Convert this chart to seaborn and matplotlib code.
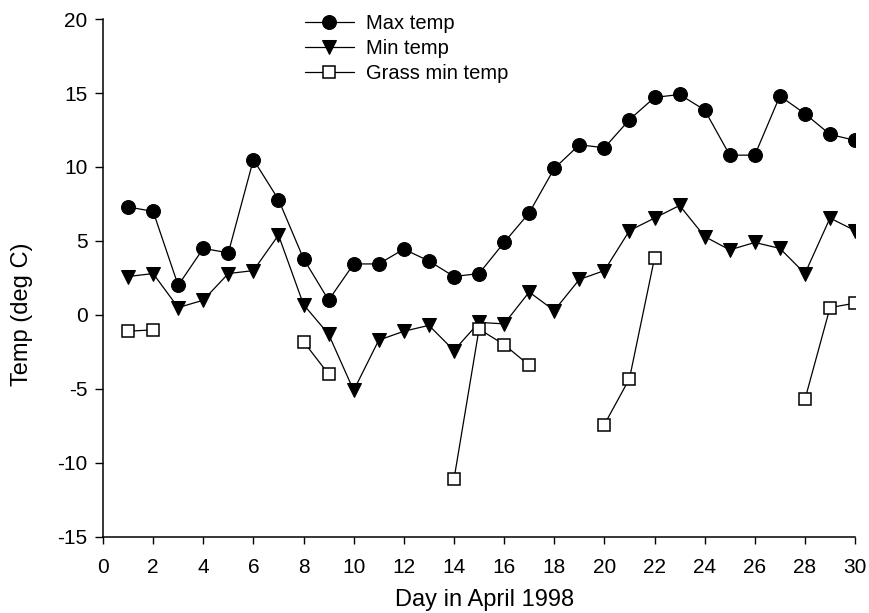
import numpy as np
import pandas as pd
import matplotlib
matplotlib.use("Agg")
import matplotlib.pyplot as plt
import seaborn as sns

days = list(range(1, 31))
max_temp = [7.3, 7.0, 2.0, 4.5, 4.2, 10.5, 7.8, 3.8, 1.0, 3.45,
            3.45, 4.45, 3.65, 2.6, 2.8, 4.9, 6.9, 9.9, 11.5, 11.3,
            13.2, 14.7, 14.9, 13.85, 10.8, 10.8, 14.8, 13.6, 12.2, 11.8]
min_temp = [2.6, 2.8, 0.5, 1.0, 2.8, 3.0, 5.4, 0.7, -1.3, -5.1,
            -1.7, -1.1, -0.7, -2.4, -0.5, -0.6, 1.55, 0.3, 2.4, 3.0,
            5.7, 6.55, 7.4, 5.3, 4.4, 4.9, 4.5, 2.8, 6.55, 5.7]
nan = np.nan
grass_min_temp = [-1.1, -1.0, nan, nan, nan, nan, nan, -1.8, -4.0, nan,
                  nan, nan, nan, -11.1, -0.95, -2.0, -3.4, nan, nan, -7.4,
                  -4.3, 3.85, nan, nan, nan, nan, nan, -5.7, 0.5, 0.8]

x_ticks = list(range(0, 31, 2))
y_ticks = list(range(-15, 21, 5))

sns.set_style("ticks")
plt.rcParams["font.family"] = ["Liberation Sans", "DejaVu Sans"]
plt.rcParams["axes.unicode_minus"] = False
plt.rcParams["text.color"] = "black"
plt.rcParams["axes.labelcolor"] = "black"

df = pd.DataFrame({"day": days, "max": max_temp, "min": min_temp,
                   "grass": grass_min_temp})

# consecutive runs of grass readings, so gaps stay open
g = df.dropna(subset=["grass"]).copy()
g["run"] = (g["day"].diff() != 1).cumsum()

fig = plt.figure(figsize=(8.69, 6.13), dpi=100)
ax = fig.add_axes([0.1185, 0.124, 0.8655, 0.845])

lw = 0.9
sns.lineplot(data=df, x="day", y="max", ax=ax, color="black", lw=lw,
             marker="o", markersize=10, markeredgecolor="black",
             markerfacecolor="black", label="Max temp")
sns.lineplot(data=df, x="day", y="min", ax=ax, color="black", lw=lw,
             marker="v", markersize=10, markeredgecolor="black",
             markerfacecolor="black", label="Min temp")
for i, (_, seg) in enumerate(g.groupby("run")):
    sns.lineplot(data=seg, x="day", y="grass", ax=ax, color="black", lw=lw,
                 marker="s", markersize=8, markeredgecolor="black",
                 markerfacecolor="white", markeredgewidth=1.1,
                 label="Grass min temp" if i == 0 else None)

ax.set_xlim(0, 30)
ax.set_ylim(-15, 20)
ax.set_xticks(x_ticks)
ax.set_yticks(y_ticks)
ax.tick_params(axis="both", labelsize=15, width=1, direction="out",
               color="black", labelcolor="black")
ax.tick_params(axis="x", length=5, pad=10)
ax.tick_params(axis="y", length=6, pad=5)
ax.set_xlabel("Day in April 1998", fontsize=17)
ax.set_ylabel("Temp (deg C)", fontsize=17)
ax.xaxis.set_label_coords(0.508, -0.122, transform=ax.transAxes)
ax.yaxis.set_label_coords(-0.107, 0.43, transform=ax.transAxes)
ax.xaxis.label.set_va("center")
ax.yaxis.label.set_va("center")
sns.despine(ax=ax)
for s in ("left", "bottom"):
    ax.spines[s].set_linewidth(1.1)
    ax.spines[s].set_color("black")

leg = ax.legend(loc="upper left", bbox_to_anchor=(0.269, 1.009), frameon=False,
                fontsize=14.5, handlelength=2.4, handletextpad=0.6,
                labelspacing=0.3, borderpad=0, borderaxespad=0)

fig.savefig("out.png", dpi=100, facecolor="white")
